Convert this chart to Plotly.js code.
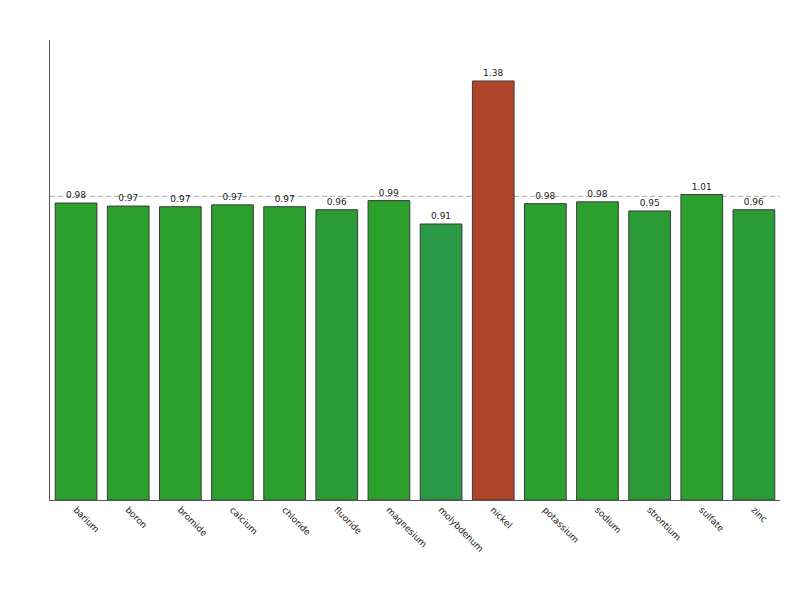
<!DOCTYPE html>
<html>
<head>
<meta charset="utf-8">
<script src="https://cdn.plot.ly/plotly-3.0.1.min.js"></script>
<style>body{margin:0;padding:0;background:#fff;}#chart{width:800px;height:600px;}</style>
</head>
<body>
<div id="chart"></div>
<script>
const categories = ["barium","boron","bromide","calcium","chloride","fluoride","magnesium","molybdenum","nickel","potassium","sodium","strontium","sulfate","zinc"];
const values = [0.978, 0.968, 0.966, 0.972, 0.966, 0.956, 0.986, 0.909, 1.38, 0.976, 0.982, 0.952, 1.006, 0.956];
const barColors = ["#2ca02c","#2ca02c","#2ca02c","#2ca02c","#2ca02c","#2b9c35","#2ca02c","#299946","#b0442a","#2ca02c","#2ca02c","#2b9c35","#2ca02c","#2b9c35"];
const referenceLine = 1.0;

const trace = {
  type: "bar",
  x: categories,
  y: values,
  marker: {color: barColors, line: {color: "#3a3a3a", width: 1}},
  text: values.map(v => v.toFixed(2)),
  textposition: "outside",
  cliponaxis: false,
  textfont: {family: "DejaVu Sans", size: 9, color: "#222"},
  hoverinfo: "x+y"
};

const layout = {
  width: 800, height: 600,
  margin: {l: 50, r: 20, t: 40, b: 100},
  paper_bgcolor: "#fff", plot_bgcolor: "#fff",
  showlegend: false,
  bargap: 0.2,
  font: {family: "DejaVu Sans", size: 9, color: "#222"},
  xaxis: {
    type: "category",
    range: [-0.5, categories.length - 0.5],
    tickangle: 45,
    showline: true, linecolor: "#555", linewidth: 1,
    ticks: "", showgrid: false, zeroline: false,
    tickfont: {family: "DejaVu Sans", size: 9, color: "#222"}
  },
  yaxis: {
    range: [0, 1.515],
    showline: true, linecolor: "#555", linewidth: 1,
    showticklabels: false, ticks: "", showgrid: false, zeroline: false
  },
  shapes: [{
    type: "line", xref: "paper", x0: 0, x1: 1, yref: "y", y0: referenceLine, y1: referenceLine,
    line: {color: "#aaa", width: 1, dash: "5px,3px"}, layer: "below"
  }]
};

Plotly.newPlot("chart", [trace], layout, {displayModeBar: false, staticPlot: true});
</script>
</body>
</html>
